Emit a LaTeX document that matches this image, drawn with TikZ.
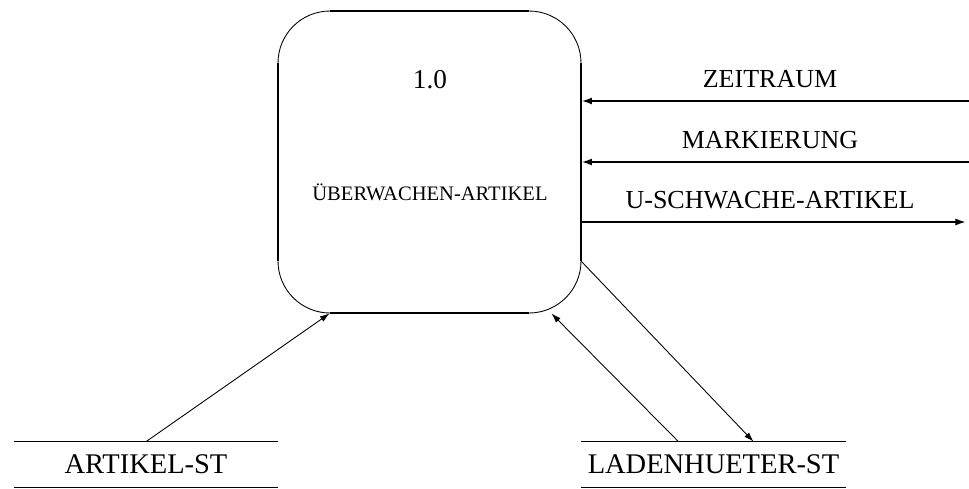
\documentclass[tikz,border=0pt]{standalone}
\usepackage{fontspec}
\setmainfont{Liberation Serif}
\usetikzlibrary{calc,arrows.meta}
\tikzset{
  proc/.style={draw, line width=0.5pt, rounded corners=10.4mm, minimum width=60.6mm, minimum height=60.4mm, inner sep=0pt},
  store/.style={minimum width=52.8mm, minimum height=9mm, inner sep=0pt, text depth=1pt, font=\fontsize{16.2}{19}\selectfont},
  side/.style={line width=1.1pt},
  flow/.style={line width=1.1pt, -{Latex[length=6pt,width=4pt]}},
  diag/.style={line width=0.5pt, -{Latex[length=5.5pt,width=3.6pt]}},
  lbl/.style={anchor=base, font=\fontsize{14.8}{17}\selectfont},
}
\begin{document}
\begin{tikzpicture}[x=0.2mm,y=-0.2mm]
    \useasboundingbox (0,0) rectangle (969,488);

    \node[proc] (P) at (429.5,162) {};
    \node[anchor=base, font=\fontsize{15.5}{18}\selectfont] (Pnr) at (430,88) {1.0};
    \node[anchor=base, font=\fontsize{11.7}{14}\selectfont] (Pname) at (430,200) {ÜBERWACHEN-ARTIKEL};

    % straight sides of the process box
    \draw[side] ($(P.north west)+(52,0)$) -- ($(P.north east)+(-52,0)$);
    \draw[side] ($(P.south west)+(52,0)$) -- ($(P.south east)+(-52,0)$);
    \draw[side] ($(P.north west)+(0,52)$) -- ($(P.south west)+(0,-52)$);
    \draw[side] ($(P.north east)+(0,52)$) -- ($(P.south east)+(0,-52)$);

    \coordinate (zr) at (969,101);
    \coordinate (mk) at (969,162);
    \coordinate (us) at (966,222);
    \draw[flow] (zr) -- (zr -| P.east);
    \draw[flow] (mk) -- (mk -| P.east);
    \draw[flow] (us -| P.east) -- (us);
    \node[lbl] (zrl) at (770,87) {ZEITRAUM};
    \node[lbl] (mkl) at (770,148) {MARKIERUNG};
    \node[lbl] (usl) at (770,208) {U-SCHWACHE-ARTIKEL};

    % data stores
    \node[store] (AS) at (146,464.5) {ARTIKEL-ST};
    \node[store] (LS) at (713.5,464.5) {LADENHUETER-ST};
    \draw[line width=0.5pt] (AS.north west) -- (AS.north east) (AS.south west) -- (AS.south east);
    \draw[line width=0.5pt] (LS.north west) -- (LS.north east) (LS.south west) -- (LS.south east);

    \draw[diag] (AS.north) -- ($(P.south west)+(52,0)$);
    \draw[diag] ($(P.south east)+(0,-52)$) -- ($(LS.north)+(40,0)$);
    \draw[diag] ($(LS.north)+(-35,0)$) -- ($(P.south east)+(-30,0)$);
\end{tikzpicture}
\end{document}
